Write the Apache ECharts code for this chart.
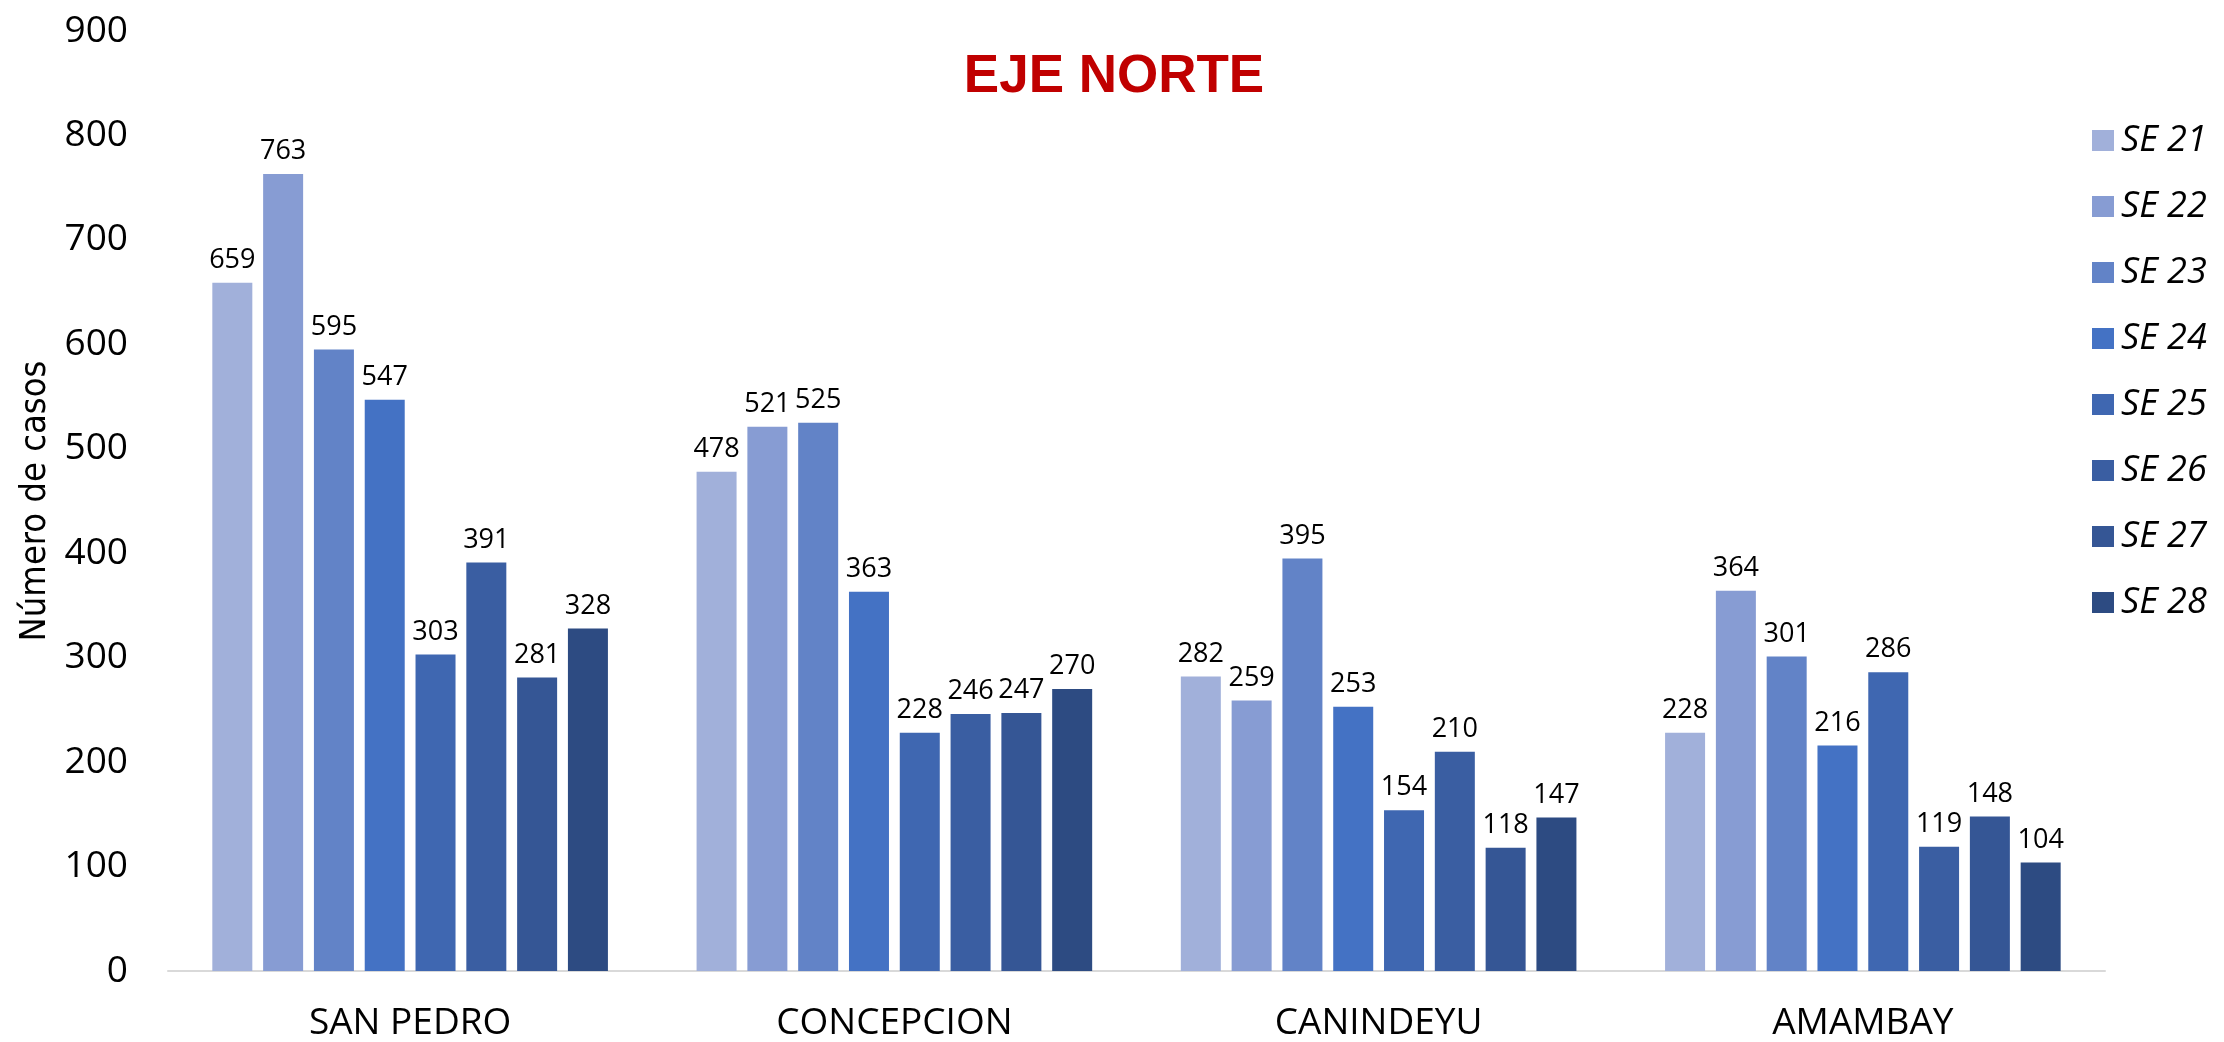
<!DOCTYPE html>
<html>
<head>
<meta charset="utf-8">
<script src="https://cdn.jsdelivr.net/npm/echarts@6/dist/echarts.min.js"></script>
<style>
  html, body { margin: 0; padding: 0; background: #fff; }
  #chart { width: 2224px; height: 1042px; }
</style>
</head>
<body>
<div id="chart"></div>
<script>
const departamentos = ['SAN PEDRO', 'CONCEPCION', 'CANINDEYU', 'AMAMBAY'];
const semanas = ['SE 21', 'SE 22', 'SE 23', 'SE 24', 'SE 25', 'SE 26', 'SE 27', 'SE 28'];

// values per week, in department order
const se21 = [659, 478, 282, 228];
const se22 = [763, 521, 259, 364];
const se23 = [595, 525, 395, 301];
const se24 = [547, 363, 253, 216];
const se25 = [303, 228, 154, 286];
const se26 = [391, 246, 210, 119];
const se27 = [281, 247, 118, 148];
const se28 = [328, 270, 147, 104];
const weekValues = [se21, se22, se23, se24, se25, se26, se27, se28];

const colors = ['#A1B0DA', '#879CD3', '#6283C7', '#4472C4', '#3F67B1', '#3A5EA2', '#355695', '#2D4B82'];

const chart = echarts.init(document.getElementById('chart'));

const option = {
  animation: false,
  title: {
    text: 'EJE NORTE',
    left: 1109,
    textAlign: 'center',
    top: 46,
    textStyle: {
      fontFamily: 'Liberation Sans',
      fontWeight: 'bold',
      fontSize: 53,
      color: '#C00000'
    }
  },
  legend: {
    orient: 'vertical',
    left: 2087,
    top: 117,
    itemWidth: 22,
    itemHeight: 21,
    itemGap: 29,
    icon: 'rect',
    data: semanas,
    textStyle: {
      fontFamily: 'Open Sans',
      fontStyle: 'italic',
      fontSize: 36,
      lineHeight: 37,
      color: '#000',
      padding: [0, 0, 0, 2]
    }
  },
  grid: {
    left: 168,
    right: 119,
    top: 31,
    bottom: 71,
    containLabel: false
  },
  xAxis: {
    type: 'category',
    data: departamentos,
    axisLine: { lineStyle: { color: '#D9D9D9', width: 2 } },
    axisTick: { show: false },
    axisLabel: {
      margin: 34,
      fontFamily: 'Open Sans',
      fontSize: 37,
      color: '#000'
    }
  },
  yAxis: {
    type: 'value',
    min: 0,
    max: 900,
    interval: 100,
    name: 'Número de casos',
    nameLocation: 'middle',
    nameGap: 112,
    nameTextStyle: {
      fontFamily: 'DejaVu Sans Condensed',
      fontSize: 36,
      color: '#000'
    },
    axisLine: { show: false },
    axisTick: { show: false },
    splitLine: { show: false },
    axisLabel: {
      margin: 40,
      fontFamily: 'Open Sans',
      fontSize: 37,
      color: '#000'
    }
  },
  series: semanas.map((name, i) => ({
    name: name,
    type: 'bar',
    data: weekValues[i],
    barWidth: 40,
    barGap: '27%',
    itemStyle: { color: colors[i] },
    label: {
      show: true,
      position: 'top',
      distance: 9,
      fontFamily: 'Open Sans',
      fontSize: 27,
      color: '#000'
    }
  }))
};

chart.setOption(option);
</script>
</body>
</html>
